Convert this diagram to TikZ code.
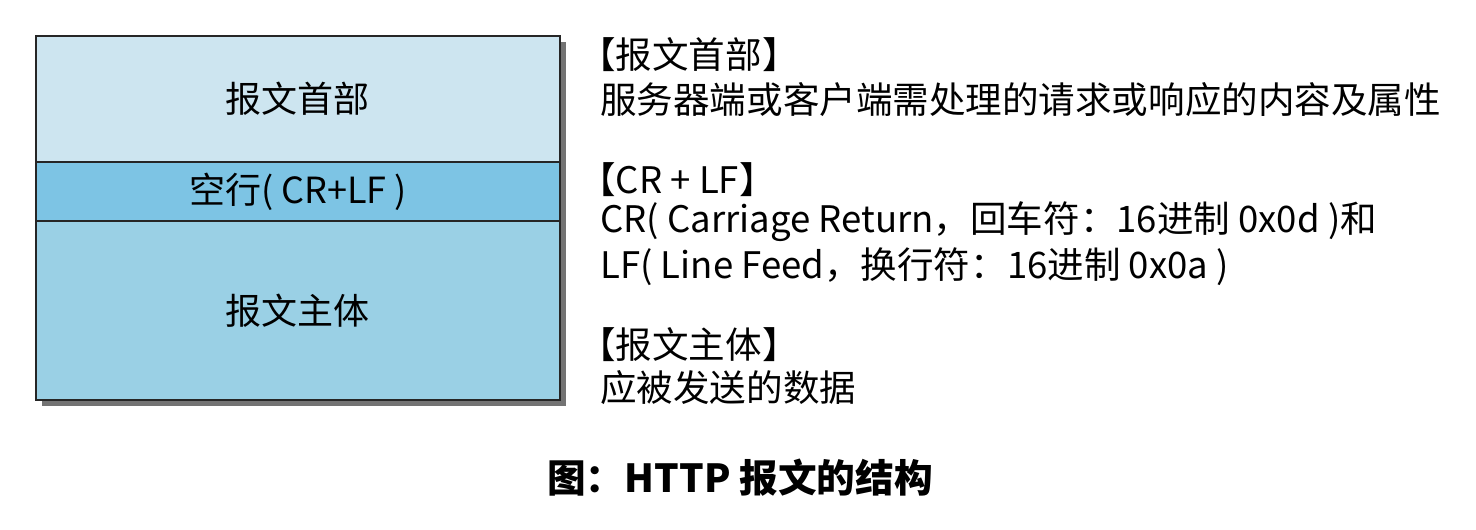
\documentclass[tikz,border=0pt]{standalone}
\usepackage{fontspec}
\setmainfont{Noto Sans CJK SC}
\usetikzlibrary{positioning}
\definecolor{cabecera}{HTML}{CDE5F0}
\definecolor{vacia}{HTML}{7DC4E4}
\definecolor{cuerpo}{HTML}{9AD0E5}
\begin{document}
\begin{tikzpicture}[x=0.02cm, y=-0.02cm,
    parte/.style={draw=black!85, line width=0.8pt, minimum width=10.48cm, inner sep=0pt, outer sep=0pt, font=\fontsize{20.5}{24}\selectfont},
    texto/.style={anchor=west, inner sep=0pt, font=\fontsize{20.8}{25}\selectfont}]
    \useasboundingbox (0,0) rectangle (1476,530);

    % Sombra
    \fill[black!55] (42,42) rectangle (566,406);

    % Partes del mensaje
    \node[parte, fill=cabecera, minimum height=2.52cm, anchor=north west] (cab) at (36,36) {报文首部};
    \node[parte, fill=vacia, minimum height=1.18cm, below=0pt of cab] (vac) {空行( CR+LF )};
    \node[parte, fill=cuerpo, minimum height=3.58cm, below=0pt of vac] (cue) {报文主体};

    % Explicaciones
    \node[texto] (tcab) at (579,55) {【报文首部】};
    \node[texto] (dcab) at (600,100) {服务器端或客户端需处理的请求或响应的内容及属性};
    \node[texto] (tvac) at (579,180) {【CR + LF】};
    \node[texto] (dcr) at (600,222) {CR( Carriage Return，回车符：16进制 0x0d )和};
    \node[texto] (dlf) at (600,267) {LF( Line Feed，换行符：16进制 0x0a )};
    \node[texto] (tcue) at (579,345) {【报文主体】};
    \node[texto] (dcue) at (600,388) {应被发送的数据};

    % Titulo
    \node[font=\fontsize{22}{26}\selectfont\bfseries] (titulo) at (740,478) {图：HTTP 报文的结构};
\end{tikzpicture}
\end{document}
